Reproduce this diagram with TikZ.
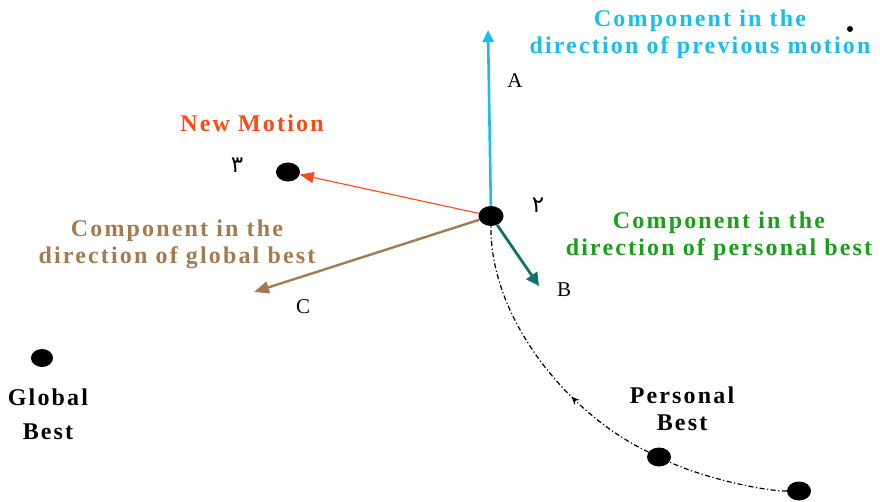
\documentclass[tikz,border=0pt]{standalone}
\usepackage{fontspec}
\setmainfont{Liberation Serif}
\newfontfamily\spaced[LetterSpace=9]{Liberation Serif}
\newfontfamily\arabicfont[Script=Arabic]{DejaVu Sans}
\usetikzlibrary{arrows.meta,shapes.geometric,decorations.markings}
\definecolor{cyanc}{RGB}{25,190,240}
\definecolor{redc}{RGB}{255,72,20}
\definecolor{brownc}{RGB}{165,122,78}
\definecolor{greenc}{RGB}{25,160,25}
\definecolor{tealc}{RGB}{20,112,108}
\tikzset{
  dot/.style={ellipse,fill=black,inner sep=0pt,minimum width=24pt,minimum height=19pt},
  bigtxt/.style={font=\spaced\bfseries\fontsize{24}{27}\selectfont,align=center,inner sep=0pt},
  letter/.style={font=\fontsize{21}{24}\selectfont,inner sep=0pt},
  digit/.style={font=\arabicfont\fontsize{23}{26}\selectfont,inner sep=0pt},
  cyanarrow/.style={draw=cyanc,line width=2.6pt,-{Triangle[length=12pt,width=11pt]}},
  redarrow/.style={draw=redc,line width=1.1pt,-{Triangle[length=14pt,width=11pt]}},
  brownarrow/.style={draw=brownc,line width=2.4pt,-{Triangle[length=15pt,width=12pt]}},
  tealarrow/.style={draw=tealc,line width=2.8pt,-{Triangle[length=13pt,width=13pt]}},
  traj/.style={line width=1.2pt,dash pattern=on 5pt off 2.5pt on 1.2pt off 2.5pt}
}
\begin{document}
\begin{tikzpicture}[x=1pt,y=-1pt]
\useasboundingbox (0,0) rectangle (880,501);
% dots
\node[dot,minimum width=25pt,minimum height=20pt] (c2) at (491,216) {};
\node[dot] (n3) at (288,172) {};
\node[dot,minimum width=22pt,minimum height=18pt] (gb) at (42,358) {};
\node[dot] (pb) at (659,457) {};
\node[dot] (br) at (799,491) {};
\node[dot,minimum width=6pt,minimum height=6pt] (sd) at (850,29) {};
% free ends
\coordinate (tipA) at (488,30);
\coordinate (tipB) at (539,286);
\coordinate (tipC) at (254,292);
% arrows
\draw[cyanarrow] (c2) -- (tipA);
\draw[redarrow] (c2) -- (n3);
\draw[brownarrow] (c2) -- (tipC);
\draw[tealarrow] (c2) -- (tipB);
% trajectory
\draw[traj] (br) .. controls (760,491) and (699,476) .. (pb);
\draw[traj,postaction={decorate},decoration={markings,mark=at position 0.33 with {\arrow{Stealth[length=8pt,width=7pt]}}}]
  (pb) .. controls (570,415) and (490,320) .. (c2);
% texts
\node[bigtxt,text=cyanc] (tA) at (700,34) {Component in the\\direction of previous motion};
\node[bigtxt,text=redc] (tN) at (252,123) {New Motion};
\node[bigtxt,text=brownc] (tC) at (177,244) {Component in the\\direction of global best};
\node[bigtxt,text=greenc] (tB) at (719,236) {Component in the\\direction of personal best};
\node[bigtxt] (tG) at (48,414) {Global\\[7pt]Best};
\node[bigtxt] (tP) at (682,409) {Personal\\Best};
\node[letter] (lA) at (515,81) {A};
\node[letter] (lB) at (564,290) {B};
\node[letter] (lC) at (303,307) {C};
\node[digit] (d3) at (237,165) {٣};
\node[digit] (d2) at (538,205) {٢};
\end{tikzpicture}
\end{document}
